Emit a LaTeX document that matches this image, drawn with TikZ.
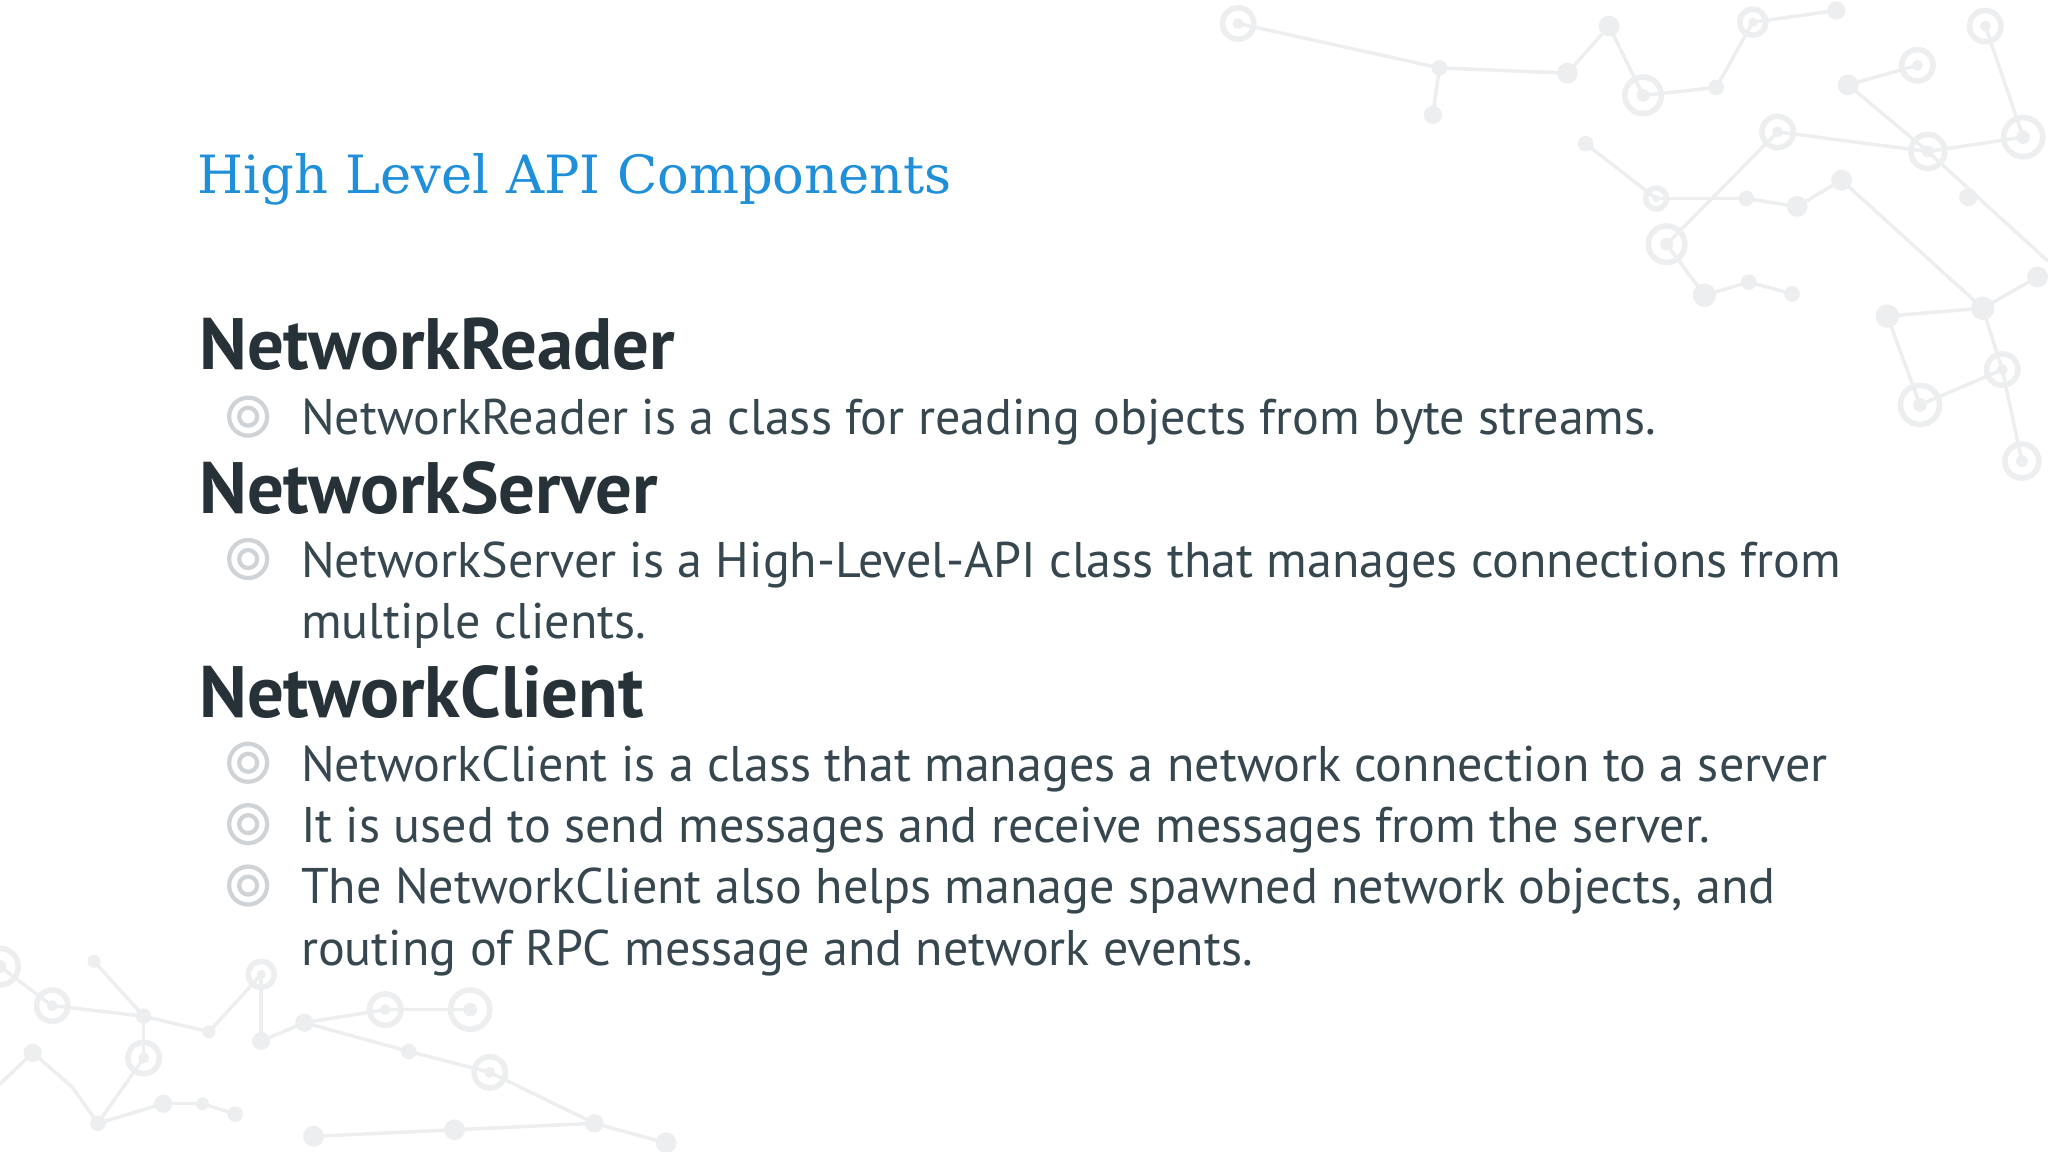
\documentclass[tikz,border=0pt]{standalone}
\usepackage{fontspec}
\setmainfont{PT Sans}
\newfontfamily\titlefont{DejaVu Serif}
\definecolor{titleblue}{HTML}{1F8FDA}
\definecolor{headc}{HTML}{263238}
\definecolor{bodyc}{HTML}{37474F}
\definecolor{deco}{HTML}{ECEEEF}
\definecolor{bul}{HTML}{CFD3D6}
\tikzset{
 title/.style={anchor=base west,inner sep=0,text=titleblue,font=\titlefont\fontsize{15}{18}\selectfont},
 head/.style={anchor=base west,inner sep=0,text=headc,font=\bfseries\fontsize{20.7}{24}\selectfont},
 body/.style={anchor=base west,inner sep=0,text=bodyc,font=\fontsize{14.25}{17}\selectfont},
 bullet/.style={circle,draw=bul,line width=1.2pt,minimum size=0.38cm,inner sep=0,
   path picture={\draw[bul,line width=1.2pt] (path picture bounding box.center) circle (0.09cm);}},
 ring/.style={draw=deco,line width=1.6pt},
 link/.style={draw=deco,line width=1pt}
}
\begin{document}
\begin{tikzpicture}[x=0.013061cm,y=-0.013061cm]
\useasboundingbox (0,0) rectangle (1568,882);
\foreach \xa/\ya/\xb/\yb in {948/18/1102/52,1102/52/1097/88,1102/52/1200/56,1200/56/1232/20,1258/73/1314/67,1258/73/1232/20,1314/67/1342/17,1342/17/1406/8,1415/65/1468/50,1361/101/1476/116,1476/116/1549/105,1520/20/1549/105,1214/110/1268/152,1268/152/1337/152,1337/152/1376/158,1376/158/1410/138,1361/101/1276/187,1276/187/1305/226,1305/226/1339/216,1339/216/1372/225,1445/242/1518/236,1518/236/1533/283,1533/283/1470/310,1470/310/1445/242,1518/236/1560/212,1533/283/1548/353,1410/138/1518/236,1476/116/1568/200,1415/65/1476/116,
40/770/110/778,72/736/110/778,110/778/110/810,110/778/160/790,160/790/200/746,200/746/200/797,200/797/233/783,233/783/295/773,295/773/360/773,313/805/375/821,25/806/55/832,55/832/75/860,75/860/125/845,125/845/155/845,155/845/180/853,240/870/348/865,348/865/455/860,455/860/510/875,0/740/40/770,0/830/25/806,233/783/313/805,375/821/455/860,110/810/75/860}
  \draw[link] (\xa,\ya) -- (\xb,\yb);
\foreach \x/\y/\r in {1102/52/6,1097/88/7,1200/56/8,1232/20/8,1314/67/6,1406/8/7,1415/65/8,1214/110/6,1337/152/6,1376/158/8,1410/138/8,1507/151/7,1305/226/9,1339/216/6,1372/225/6,1445/242/9,1518/236/9,1560/212/8,
 72/736/5,110/778/6,160/790/5,200/797/7,233/783/7,313/805/6,25/806/7,75/860/6,125/845/7,155/845/5,180/853/6,240/870/8,348/865/8,455/860/7,510/875/8}
  \fill[deco] (\x,\y) circle (\r);
\foreach \x/\y/\r in {948/18/12,1258/73/14,1342/17/10,1468/50/12,1361/101/12,1476/116/13,1549/105/15,1520/20/12,1268/152/8,1276/187/14,1533/283/12,1470/310/15,1548/353/13,
 40/770/12,110/810/12,200/746/10,295/773/12,360/773/15,375/821/12,0/740/14}
  {\draw[ring] (\x,\y) circle (\r); \fill[deco] (\x,\y) circle (\r*0.35);}
\node[title] (t) at (151,148) {High Level API Components};
\node[head] (h1) at (152,283) {NetworkReader};
\node[bullet] (b1) at (190,319) {};
\node[body] (l1) at (230,333) {NetworkReader is a class for reading objects from byte streams.};
\node[head] (h2) at (152,393) {NetworkServer};
\node[bullet] (b2) at (190,428) {};
\node[body] (l2) at (230,442) {NetworkServer is a High-Level-API class that manages connections from};
\node[body] (l2b) at (230,489) {multiple clients.};
\node[head] (h3) at (152,549) {NetworkClient};
\node[bullet] (b3) at (190,584) {};
\node[body] (l3) at (230,598) {NetworkClient is a class that manages a network connection to a server};
\node[bullet] (b4) at (190,631) {};
\node[body] (l4) at (230,645) {It is used to send messages and receive messages from the server.};
\node[bullet] (b5) at (190,678) {};
\node[body] (l5) at (230,692) {The NetworkClient also helps manage spawned network objects, and};
\node[body] (l5b) at (230,739) {routing of RPC message and network events.};
\end{tikzpicture}
\end{document}
